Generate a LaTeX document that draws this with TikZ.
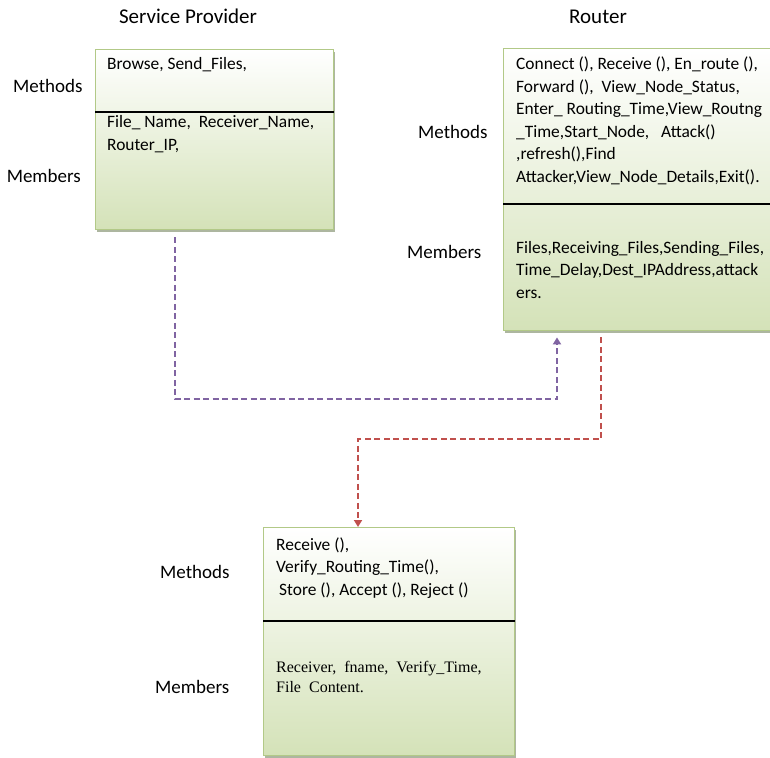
\documentclass[tikz,border=0pt]{standalone}
\usepackage{fontspec}
\setmainfont{Carlito}
\newfontfamily\serifbody{Liberation Serif}
\usetikzlibrary{arrows.meta,calc,shadows}
\definecolor{boxedge}{RGB}{178,201,135}
\definecolor{boxtop}{RGB}{255,255,255}
\definecolor{boxbottom}{RGB}{212,226,184}
\definecolor{boxshade}{RGB}{145,158,128}
\definecolor{linkpurple}{RGB}{128,100,162}
\definecolor{linkred}{RGB}{192,80,77}

\begin{document}
\begin{tikzpicture}[x=1pt,y=-1pt,
  classbox/.style={draw=boxedge, line width=1.4pt, top color=boxtop, bottom color=boxbottom,
    anchor=north west, inner sep=0pt,
    drop shadow={shadow xshift=0.8pt, shadow yshift=-2.5pt, fill=boxshade, opacity=0.75}},
  divider/.style={draw=black, line width=1.1pt},
  % multi-line texts are placed by the baseline of their last line
  boxtext/.style={font=\fontsize{17.4}{22.5}\selectfont, align=left, anchor=base west, inner sep=0pt},
  serifboxtext/.style={font=\serifbody\fontsize{16}{20}\selectfont, align=left, anchor=base west, inner sep=0pt},
  sidelabel/.style={font=\fontsize{19}{22}\selectfont, inner sep=0pt},
  title/.style={font=\fontsize{21}{24}\selectfont, anchor=base, inner sep=0pt},
  link/.style={dashed, dash pattern=on 6pt off 3.5pt, line width=2.1pt},
  tip/.style={-{Triangle[width=8pt,length=7pt]}}
]
\useasboundingbox (0,0) rectangle (770,757);
\clip (0,0) rectangle (770,757);

% titles
\node[title] (sptitle) at (188,24) {Service Provider};
\node[title] (rttitle) at (598,24) {Router};

% class boxes
\node[classbox, minimum width=238pt, minimum height=180pt] (sp) at (95,49) {};
\node[classbox, minimum width=280pt, minimum height=282pt] (rt) at (503,48) {};
\node[classbox, minimum width=251pt, minimum height=228pt] (rc) at (263,527) {};

% compartment dividers
\draw[divider] ([yshift=-63pt]sp.north west) -- ([yshift=-63pt]sp.north east);
\draw[divider] ([yshift=-156pt]rt.north west) -- ([yshift=-156pt]rt.north east);
\draw[divider] ([yshift=-94pt]rc.north west) -- ([yshift=-94pt]rc.north east);

% service provider
\node[boxtext] (spm) at (107,70) {Browse, Send\_Files,};
\node[boxtext] (spa) at (107,150) {File\_ Name,\ \ Receiver\_Name,\\Router\_IP,};
\node[sidelabel, anchor=base west] (spml) at (13,93) {Methods};
\node[sidelabel, anchor=base east] (spal) at (81,182) {Members};

% router
\node[boxtext] (rtm) at (516,182) {Connect (), Receive (), En\_route (),\\
  Forward (),\ \ View\_Node\_Status,\\
  Enter\_ Routing\_Time,View\_Routng\\
  \_Time,Start\_Node,\ \ \ Attack()\\
  ,refresh(),Find\\
  Attacker,View\_Node\_Details,Exit().};
\node[boxtext] (rta) at (516,298) {Files,Receiving\_Files,Sending\_Files,\\
  Time\_Delay,Dest\_IPAddress,attack\\
  ers.};
\node[sidelabel, anchor=base west] (rtml) at (418,138) {Methods};
\node[sidelabel, anchor=base west] (rtal) at (407,258) {Members};

% receiver
\node[boxtext] (rcm) at (276,595) {Receive (),\\
  Verify\_Routing\_Time(),\\
  \hspace{3pt}Store (), Accept (), Reject ()};
\node[serifboxtext] (rca) at (276,692) {Receiver,\ \ fname,\ \ Verify\_Time,\\
  File\ \ Content.};
\node[sidelabel, anchor=base west] (rcml) at (160,578) {Methods};
\node[sidelabel, anchor=base west] (rcal) at (155,693) {Members};

% connectors
\draw[link, linkpurple, tip]
  ($(sp.south west)+(80,7)$) -- ++(0,162) -| ($(rt.south west)+(54,6)$);
\draw[link, linkred, tip]
  ($(rt.south west)+(98,6)$) -- ++(0,102) -| ($(rc.north west)+(95,0)$);
\end{tikzpicture}
\end{document}
